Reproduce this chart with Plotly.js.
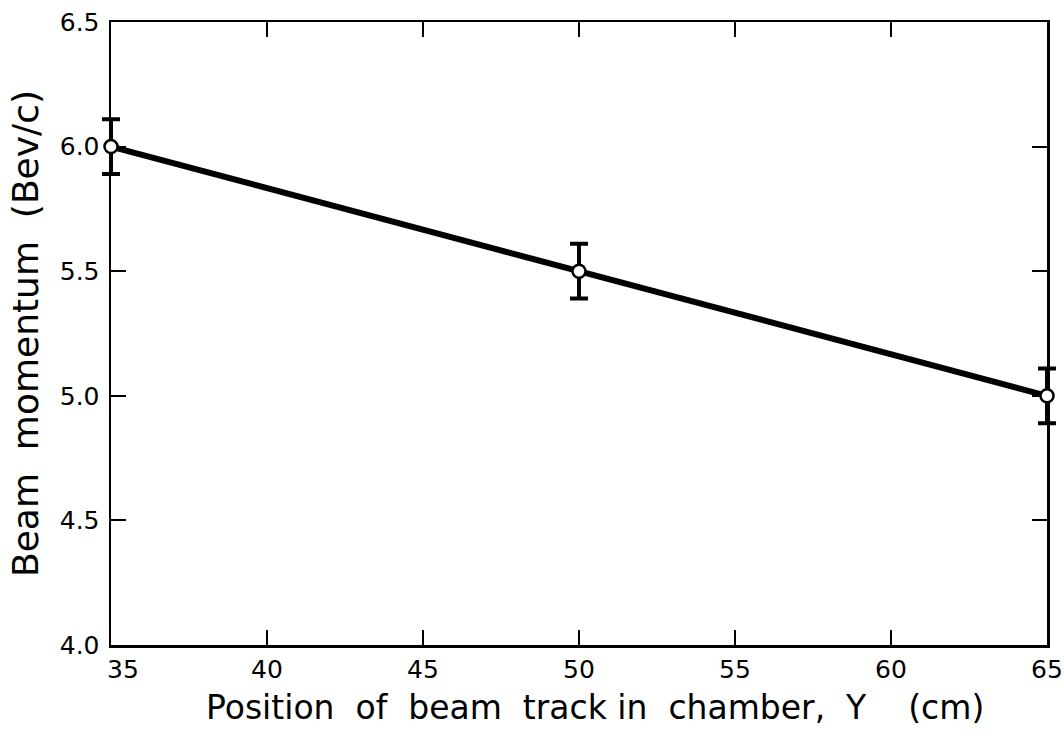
<!DOCTYPE html>
<html>
<head>
<meta charset="utf-8">
<script src="https://cdn.plot.ly/plotly-3.0.1.min.js"></script>
<style>
  html, body { margin: 0; padding: 0; background: #fff; }
  #chart { width: 1064px; height: 750px; }
</style>
</head>
<body>
<div id="chart"></div>
<script>
// Measured beam momentum at three track positions
const positionY = [35, 50, 65];          // cm
const momentum = [6.0, 5.5, 5.0];        // Bev/c
const momentumErr = [0.11, 0.11, 0.11];  // Bev/c

// Straight-line fit through the measurements
const fitX = [35, 65];
const fitY = [6.0, 5.0];

const xTicks = [35, 40, 45, 50, 55, 60, 65];
const yTicks = [4.0, 4.5, 5.0, 5.5, 6.0, 6.5];

const xTitle = 'Position  of  beam  track in  chamber,  Y    (cm)';
const yTitle = 'Beam  momentum  (Bev/c)';

const font = "DejaVu Sans, sans-serif";
const NB = '\u00A0';

// nudge the first label inward so it sits clear of the frame corner
function xTickText(v, i) {
  if (i === 0) return NB + NB + NB + String(v);
  return String(v);
}

const traces = [
  {
    x: fitX, y: fitY, mode: 'lines', type: 'scatter',
    line: { color: '#000', width: 6 },
    hoverinfo: 'skip', showlegend: false, cliponaxis: false
  },
  {
    x: positionY, y: momentum, mode: 'markers', type: 'scatter',
    marker: { size: 13, color: '#fff', line: { color: '#000', width: 2.5 } },
    error_y: { type: 'data', array: momentumErr, visible: true,
               color: '#000', thickness: 4, width: 9 },
    showlegend: false, cliponaxis: false
  }
];

const axisCommon = {
  showgrid: false, zeroline: false, layer: 'below traces',
  showline: true, linecolor: '#000', linewidth: 2.5, mirror: 'allticks',
  ticks: 'inside', ticklen: 15, tickwidth: 2, tickcolor: '#000',
  ticklabeloverflow: 'allow',
  tickfont: { family: font, size: 25, color: '#000' }
};

const layout = {
  width: 1064, height: 750,
  margin: { l: 111, r: 17, t: 22, b: 105 },
  paper_bgcolor: '#fff', plot_bgcolor: '#fff',
  xaxis: Object.assign({}, axisCommon, {
    range: [35, 65], tickvals: xTicks,
    ticktext: xTicks.map(xTickText),
    ticklabelstandoff: 0
  }),
  yaxis: Object.assign({}, axisCommon, {
    range: [4.0, 6.5], tickvals: yTicks,
    ticktext: yTicks.map(v => v.toFixed(1)),
    ticklabelstandoff: 4,
    title: { text: yTitle,
             font: { family: font, size: 36, color: '#000' }, standoff: 10 }
  }),
  annotations: [{
    text: xTitle, showarrow: false,
    xref: 'paper', yref: 'paper', x: 0.517, y: -0.101,
    xanchor: 'center', yanchor: 'middle',
    font: { family: font, size: 33, color: '#000' }
  }]
};

const gd = document.getElementById('chart');

// let the end-point error bars spill over the frame like the markers do
function unclipTraces() {
  gd.querySelectorAll('.cartesianlayer [clip-path], .cartesianlayer [style*="clip-path"]')
    .forEach(el => {
      el.removeAttribute('clip-path');
      el.style.clipPath = 'none';
    });
}

Plotly.newPlot(gd, traces, layout, { displayModeBar: false, staticPlot: true })
  .then(() => {
    unclipTraces();
    requestAnimationFrame(unclipTraces);
    setTimeout(unclipTraces, 50);
  });
</script>
</body>
</html>
